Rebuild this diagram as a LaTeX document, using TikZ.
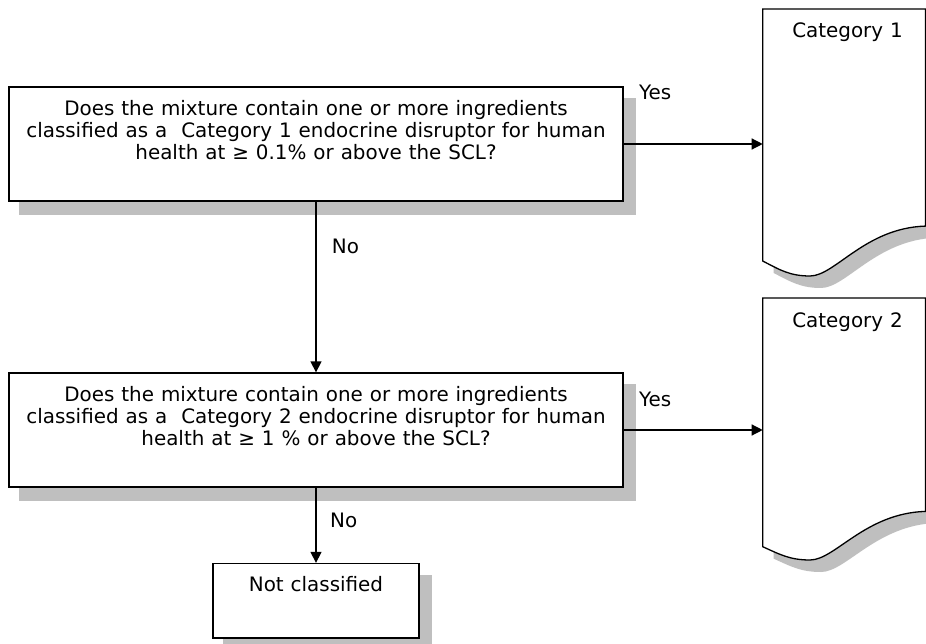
\documentclass[tikz,border=0pt]{standalone}
\usepackage{fontspec}
\setmainfont{DejaVu Sans}[WordSpace=1.1]
\usetikzlibrary{arrows.meta}
\begin{document}
\begin{tikzpicture}[x=1pt,y=-1pt,
  every node/.style={font=\fontsize{19.9}{22}\selectfont, inner sep=0pt},
  qbox/.style={draw=black, line width=1.3pt, fill=white},
  shade/.style={fill=black!25, draw=none},
  docshape/.style={draw=black, line width=1.3pt, fill=white},
  qtext/.style={align=center, anchor=north},
  flow/.style={draw=black, line width=1.3pt, -{Triangle[length=11pt,width=11pt]}},
  lbl/.style={anchor=base west}
]
\clip (0,0) rectangle (926,644);
\fill[white] (0,0) rectangle (926,644);

% ---- question 1 ----
\fill[shade] (19,98) rectangle (636,215);
\node[qbox, minimum width=614pt, minimum height=114pt] (q1) at (316,144) {};
\node[qtext] (q1t) at (316,100) {Does the mixture contain one or more ingredients\\
  classified as a\ \ Category 1 endocrine disruptor for human\\
  health at ≥ 0.1\% or above the SCL?};

% ---- question 2 ----
\fill[shade] (19,384) rectangle (636,501);
\node[qbox, minimum width=614pt, minimum height=114pt] (q2) at (316,430) {};
\node[qtext] (q2t) at (316,386) {Does the mixture contain one or more ingredients\\
  classified as a\ \ Category 2 endocrine disruptor for human\\
  health at ≥ 1 \% or above the SCL?};

% ---- outcome: not classified ----
\fill[shade] (223,575) rectangle (432,650);
\node[qbox, minimum width=206pt, minimum height=74.5pt] (nc) at (316,600.75) {};
\node[anchor=base] (nct) at (316,591) {Not classified};

% ---- outcome documents ----
\node[minimum width=162.3pt, minimum height=216.7pt, anchor=north west] (d1) at (762.7,9) {};
\node[minimum width=162.3pt, minimum height=213pt, anchor=north west] (d2) at (762.7,298) {};

\begin{scope}[shift={(11,12)}]
  \fill[shade] (762.7,9) -- (925,9) -- (925,225.7)
    .. controls (865,228) and (835,276) .. (810,276)
    .. controls (790,276) and (780,270) .. (762.7,261) -- cycle;
  \fill[shade] (762.7,298) -- (925,298) -- (925,511)
    .. controls (865,513.3) and (835,560) .. (810,560)
    .. controls (790,560) and (780,554.5) .. (762.7,546.7) -- cycle;
\end{scope}
\path[docshape] (d1.north west) -- (d1.north east) -- (d1.south east)
    .. controls (865,228) and (835,276) .. (810,276)
    .. controls (790,276) and (780,270) .. (762.7,261) -- cycle;
\path[docshape] (d2.north west) -- (d2.north east) -- (d2.south east)
    .. controls (865,513.3) and (835,560) .. (810,560)
    .. controls (790,560) and (780,554.5) .. (762.7,546.7) -- cycle;
\node[anchor=base] (d1t) at (847.5,37.3) {Category 1};
\node[anchor=base] (d2t) at (847.5,327.3) {Category 2};

% ---- connectors ----
\draw[flow] (q1.east) -- (q1.east -| d1.west);
\draw[flow] (q2.east) -- (q2.east -| d2.west);
\draw[flow] (q1.south) -- (q2.north);
\draw[flow] (q2.south) -- (nc.north);

% ---- connector labels ----
\node[lbl] (y1) at (639,99.3) {Yes};
\node[lbl] (y2) at (639,406) {Yes};
\node[lbl] (n1) at (331.7,253.3) {No};
\node[lbl] (n2) at (330,527.7) {No};
\end{tikzpicture}
\end{document}
